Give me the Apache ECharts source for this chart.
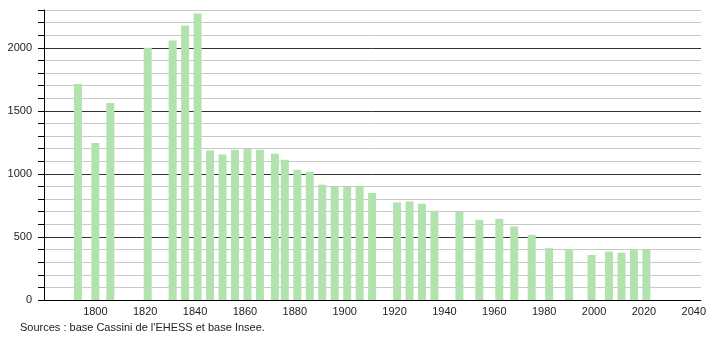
<!DOCTYPE html>
<html>
<head>
<meta charset="utf-8">
<script src="https://cdn.jsdelivr.net/npm/echarts@6/dist/echarts.min.js"></script>
<style>
html,body{margin:0;padding:0;background:#fff;}
#c{width:710px;height:340px;}
</style>
</head>
<body>
<div id="c"></div>
<script>
var years = [1793,1800,1806,1821,1831,1836,1841,1846,1851,1856,1861,1866,1872,1876,1881,1886,1891,1896,1901,1906,1911,1921,1926,1931,1936,1946,1954,1962,1968,1975,1982,1990,1999,2006,2011,2016,2021];
var population = [1714,1245,1563,2000,2059,2178,2273,1186,1153,1192,1198,1192,1160,1113,1033,1017,914,896,896,906,848,774,782,763,708,697,636,644,583,517,411,405,358,384,376,405,397];
var yTickLabels = [0,500,1000,1500,2000];
var xTickLabels = [1800,1820,1840,1860,1880,1900,1920,1940,1960,1980,2000,2020,2040];
var sourceText = "Sources : base Cassini de l'EHESS et base Insee.";

var chart = echarts.init(document.getElementById('c'));
var font = "'Liberation Sans', Arial, sans-serif";
chart.setOption({
  animation: false,
  grid: {left: 44, right: 9, top: 10, bottom: 40, containLabel: false},
  xAxis: {
    type: 'value', min: 1779.4, max: 2042.9,
    minInterval: 20, maxInterval: 20, splitNumber: 13,
    axisLine: {lineStyle: {color: '#000', width: 1}},
    axisTick: {show: false},
    splitLine: {show: false},
    axisLabel: {
      color: '#222', fontSize: 11, fontFamily: font, margin: 6,
      showMinLabel: false, showMaxLabel: false,
      formatter: function(v){ return xTickLabels.indexOf(Math.round(v)) >= 0 && Math.abs(v - Math.round(v)) < 0.01 ? String(Math.round(v)) : ''; }
    }
  },
  yAxis: {
    type: 'value', min: 0, max: 2300, interval: 100,
    axisLine: {show: true, lineStyle: {color: '#000', width: 1}},
    axisTick: {show: true, length: 6, lineStyle: {color: '#000'}},
    splitLine: {show: true, lineStyle: {color: ['#333','#c8c8c8','#c8c8c8','#c8c8c8','#c8c8c8'], width: 1}},
    axisLabel: {
      color: '#222', fontSize: 11, fontFamily: font, margin: 12,
      formatter: function(v){ return yTickLabels.indexOf(v) >= 0 ? String(v) : ''; }
    }
  },
  series: [{
    type: 'bar',
    barWidth: 8,
    itemStyle: {color: '#b2e3ae'},
    data: years.map(function(y,i){ return [y, population[i]]; })
  }],
  graphic: [{
    type: 'text', left: 20, top: 322,
    style: {text: sourceText, fill: '#222', font: '11px ' + font}
  }]
});
</script>
</body>
</html>
